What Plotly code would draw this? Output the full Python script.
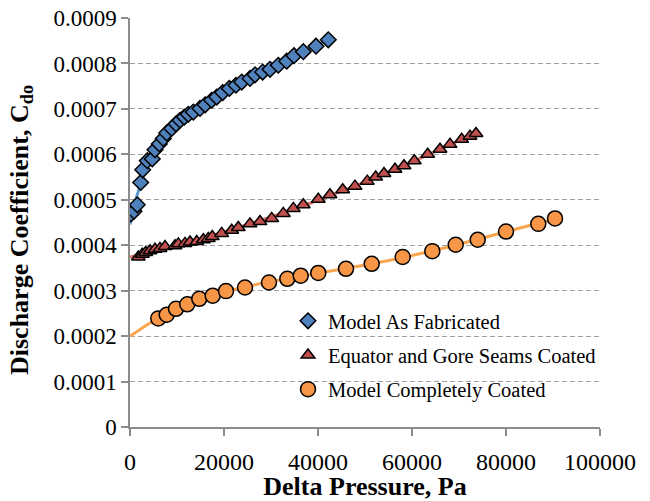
import numpy as np
import plotly.graph_objects as go

# ---------------- data ----------------
fab_x = [210, 850, 1550, 2280, 2700, 3680, 4740, 5320, 6230, 7090, 7810, 8870, 9790,
         10640, 11550, 12400, 13470, 14890, 16000, 17380, 18450, 19720, 21130, 22550,
         23770, 25530, 26600, 28230, 29790, 31550, 33340, 34890, 36870, 39570, 42190]
fab_y = [4.69, 4.75, 4.89, 5.38, 5.66, 5.86, 5.90, 6.10, 6.23, 6.35, 6.47, 6.57, 6.67,
         6.75, 6.82, 6.88, 6.93, 7.01, 7.09, 7.19, 7.26, 7.36, 7.45, 7.52,
         7.59, 7.67, 7.75, 7.81, 7.87, 7.96, 8.05, 8.17, 8.26, 8.38, 8.52]  # x1e-4

seam_x = [1770, 2620, 3340, 4260, 5320, 6380, 7450, 9570, 10280, 11700, 12770, 14190,
          15600, 16660, 17510, 19510, 21640, 23040, 25530, 27660, 30150, 32620, 34750,
          36870, 40060, 42550, 45260, 47870, 50490, 52280, 54040, 56380, 58300, 60490,
          63340, 65960, 68090, 70570, 72340, 73620]
seam_y = [3.74, 3.80, 3.84, 3.88, 3.91, 3.93, 3.97, 3.99, 4.03, 4.04, 4.07, 4.08,
          4.12, 4.15, 4.19, 4.26, 4.33, 4.39, 4.47, 4.52, 4.59, 4.70, 4.81,
          4.89, 5.01, 5.11, 5.22, 5.30, 5.41, 5.50, 5.58, 5.67, 5.75, 5.86,
          6.00, 6.11, 6.22, 6.33, 6.40, 6.46]  # x1e-4

coat_x = [6020, 7810, 9790, 12190, 14740, 17600, 20430, 24470, 29570, 33470, 36320,
          40060, 45960, 51430, 58020, 64320, 69300, 73980, 80000, 86870, 90430]
coat_y = [2.39, 2.47, 2.60, 2.70, 2.82, 2.89, 2.99, 3.07, 3.18, 3.26, 3.33,
          3.39, 3.48, 3.59, 3.74, 3.87, 4.01, 4.12, 4.30, 4.47, 4.59]  # x1e-4

series_names = ["Model As Fabricated", "Equator and Gore Seams Coated", "Model Completely Coated"]

y_tick_vals = [0, 0.0001, 0.0002, 0.0003, 0.0004, 0.0005, 0.0006, 0.0007, 0.0008, 0.0009]
y_tick_text = ["0", "0.0001", "0.0002", "0.0003", "0.0004", "0.0005", "0.0006", "0.0007", "0.0008", "0.0009"]
x_tick_vals = [0, 20000, 40000, 60000, 80000, 100000]
x_tick_text = ["0", "20000", "40000", "60000", "80000", "100000"]

x_title = "<b>Delta Pressure, Pa</b>"
y_title = "<b>Discharge Coefficient, C<sub>do</sub></b>"

SCALE = 1e-4
FONT = "Liberation Serif"

# ---------------- polynomial trendlines (least-squares fits of the data) ----------------
def poly_trend(xs, ys, order):
    xs = np.asarray(xs, float)
    ys = np.asarray(ys, float)
    p = np.polynomial.Polynomial.fit(xs, ys, order, domain=[0, xs.max()])
    grid = np.linspace(0, xs.max(), 400)
    return grid, p(grid) * SCALE

fab_tx, fab_ty = poly_trend(fab_x, fab_y, 6)
seam_tx, seam_ty = poly_trend(seam_x, seam_y, 2)
coat_tx, coat_ty = poly_trend(coat_x, coat_y, 4)

fig = go.Figure()

for tx, ty, col in [(fab_tx, fab_ty, "#5B9BD5"), (seam_tx, seam_ty, "#D9716B"), (coat_tx, coat_ty, "#F9A54E")]:
    fig.add_trace(go.Scatter(x=tx, y=ty, mode="lines", line=dict(color=col, width=3),
                             showlegend=False, hoverinfo="skip"))

def scaled(v):
    return [a * SCALE for a in v]

fig.add_trace(go.Scatter(x=fab_x, y=scaled(fab_y), mode="markers", name=series_names[0],
                         legendgroup="a",
                         marker=dict(symbol="diamond", size=12, color="#4F81BD",
                                     line=dict(color="black", width=1.5))))
fig.add_trace(go.Scatter(x=seam_x, y=scaled(seam_y), mode="markers", name=series_names[1],
                         legendgroup="b",
                         marker=dict(symbol="triangle-up", size=12, color="#C0504D",
                                     line=dict(color="black", width=1.5))))
fig.add_trace(go.Scatter(x=coat_x, y=scaled(coat_y), mode="markers", name=series_names[2],
                         legendgroup="c",
                         marker=dict(symbol="circle", size=15, color="#F79646",
                                     line=dict(color="black", width=1.5))))

# white legend box hiding gridlines
fig.add_shape(type="rect", xref="paper", yref="paper", layer="between",
              x0=(303 - 130) / 470, x1=0.995, y0=(427 - 410) / 409, y1=(427 - 303) / 409,
              fillcolor="white", line=dict(width=0))

# y-axis title (placed as rotated text, centred slightly below the plot middle as in the reference)
fig.add_annotation(text=y_title, xref="paper", yref="paper",
                   x=(21 - 130) / 470, y=(427 - 230) / 409, xanchor="center", yanchor="middle",
                   textangle=-90, showarrow=False, font=dict(size=26, family=FONT, color="black"))

fig.update_layout(
    width=650, height=501,
    margin=dict(l=130, r=50, t=18, b=74),
    paper_bgcolor="white", plot_bgcolor="white",
    font=dict(family=FONT, color="black"),
    showlegend=True,
    legend=dict(x=(288 - 130) / 470, y=(427 - 301) / 409, xanchor="left", yanchor="top",
                bgcolor="rgba(0,0,0,0)", font=dict(size=20.5, family=FONT),
                traceorder="grouped", tracegroupgap=4.5, itemwidth=30),
    xaxis=dict(range=[0, 100000], tickvals=x_tick_vals, ticktext=x_tick_text,
               showgrid=False, zeroline=False, showline=True, linecolor="#8C8C8C", linewidth=1.5,
               ticks="outside", ticklen=7, tickcolor="#8C8C8C", tickwidth=1.5,
               tickfont=dict(size=24, family=FONT), ticklabelstandoff=5, automargin=False,
               title=dict(text=x_title, font=dict(size=26, family=FONT), standoff=0)),
    yaxis=dict(range=[0, 0.0009], tickvals=y_tick_vals, ticktext=y_tick_text,
               showgrid=True, gridcolor="#A0A0A0", griddash="5px,3px", gridwidth=1,
               zeroline=False, showline=True, linecolor="#8C8C8C", linewidth=1.5,
               ticks="outside", ticklen=7, tickcolor="#8C8C8C", tickwidth=1.5,
               tickfont=dict(size=23, family=FONT), automargin=False),
)

fig.write_html("out.html")
